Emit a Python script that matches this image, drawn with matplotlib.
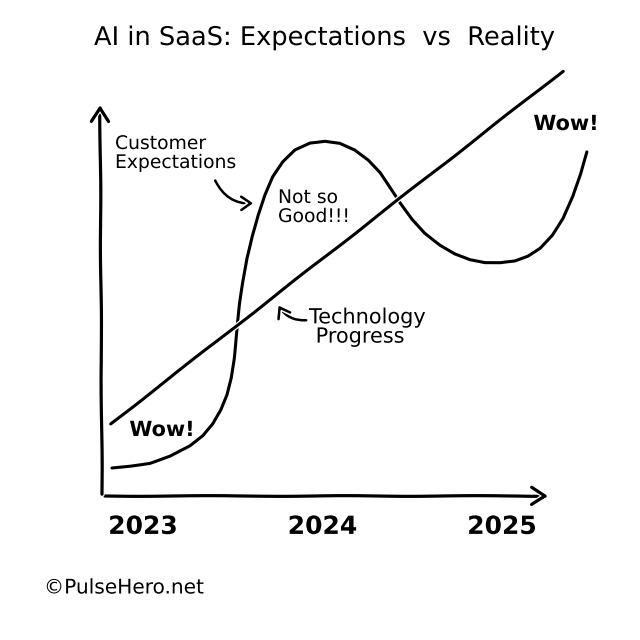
import matplotlib
matplotlib.use('Agg')
import matplotlib.pyplot as plt

# Datos (anio, nivel 0-100)
exp_years = [2022.827, 2022.928, 2023.039, 2023.150, 2023.262, 2023.334, 2023.390, 2023.434,
             2023.467, 2023.490, 2023.507, 2023.524, 2023.540, 2023.557, 2023.579, 2023.607,
             2023.641, 2023.680, 2023.724, 2023.780, 2023.847, 2023.930, 2024.014, 2024.097,
             2024.181, 2024.253, 2024.320, 2024.376, 2024.432, 2024.499, 2024.571, 2024.655,
             2024.738, 2024.822, 2024.905, 2024.989, 2025.072, 2025.145, 2025.212, 2025.279,
             2025.340, 2025.396, 2025.440, 2025.474]
exp_level = [7.07, 7.58, 8.33, 10.10, 12.63, 15.15, 18.18, 21.72,
             25.51, 29.80, 34.85, 42.42, 48.74, 54.04, 60.10, 65.66,
             70.96, 76.01, 80.56, 84.34, 87.37, 89.14, 89.65, 89.14,
             87.37, 84.85, 81.57, 77.78, 73.99, 69.95, 66.41, 63.38,
             61.11, 59.60, 58.84, 58.84, 59.34, 60.61, 62.63, 65.91,
             70.20, 75.76, 81.31, 86.87]
tech_years = [2022.82, 2025.34]
tech_level = [18.2, 107.3]
year_labels = ['2023', '2024', '2025']
year_ticks = [2023, 2024, 2025]

plt.xkcd(scale=0.35, length=150, randomness=2)
plt.rcParams['font.family'] = ['DejaVu Sans']

fig = plt.figure(figsize=(6.4, 6.4), dpi=100)
ax = fig.add_axes([0, 0, 1, 1])
ax.set_xlim(2022.2033, 2025.7688)
ax.set_ylim(-36.36, 125.25)
ax.axis('off')


def px(x, y):
    # pixeles de la imagen -> fraccion de figura
    return (x / 640, 1 - y / 640)


# Curvas
ax.plot(exp_years, exp_level, color='black', lw=2.2, solid_capstyle='round',
        solid_joinstyle='round')
ax.plot(tech_years, tech_level, color='black', lw=2.2, solid_capstyle='round')

# Ejes dibujados como flechas
arrow = dict(arrowstyle='->,head_length=0.7,head_width=0.45', color='black', lw=2.3)
ax.annotate('', xy=px(551, 496), xytext=px(102, 496), xycoords='figure fraction',
            textcoords='figure fraction', arrowprops=arrow)
ax.annotate('', xy=px(100, 102), xytext=px(102, 497), xycoords='figure fraction',
            textcoords='figure fraction', arrowprops=arrow)

# Etiquetas de los anios
for yr, lab in zip(year_ticks, year_labels):
    ax.text(yr, -7.8, lab, ha='center', va='center', fontsize=18, fontweight='bold')

# Titulo
fig.text(*px(325, 38), 'AI in SaaS: Expectations  vs  Reality', ha='center', va='center',
         fontsize=18.5)

# Anotaciones
fig.text(*px(115, 153), 'Customer\nExpectations', ha='left', va='center', fontsize=13.5,
         linespacing=1.0)
ax.annotate('', xy=px(256, 203), xytext=px(214, 178), xycoords='figure fraction',
            textcoords='figure fraction',
            arrowprops=dict(arrowstyle='->,head_length=0.5,head_width=0.35', color='black',
                            lw=1.8, connectionstyle='arc3,rad=0.35'))
fig.text(*px(278, 207), 'Not so\nGood!!!', ha='left', va='center', fontsize=13.5,
         linespacing=1.0)
fig.text(*px(309, 327), 'Technology\n Progress', ha='left', va='center', fontsize=15,
         linespacing=0.95)
ax.annotate('', xy=px(277, 303), xytext=px(309, 320), xycoords='figure fraction',
            textcoords='figure fraction',
            arrowprops=dict(arrowstyle='->,head_length=0.5,head_width=0.35', color='black',
                            lw=1.8, connectionstyle='arc3,rad=-0.35'))
fig.text(*px(162, 430), 'Wow!', ha='center', va='center', fontsize=15, fontweight='bold')
fig.text(*px(566, 124), 'Wow!', ha='center', va='center', fontsize=15, fontweight='bold')

# Firma
fig.text(*px(44, 588), '©PulseHero.net', ha='left', va='center', fontsize=14.5)

fig.savefig('out.png', dpi=100, facecolor='white')
